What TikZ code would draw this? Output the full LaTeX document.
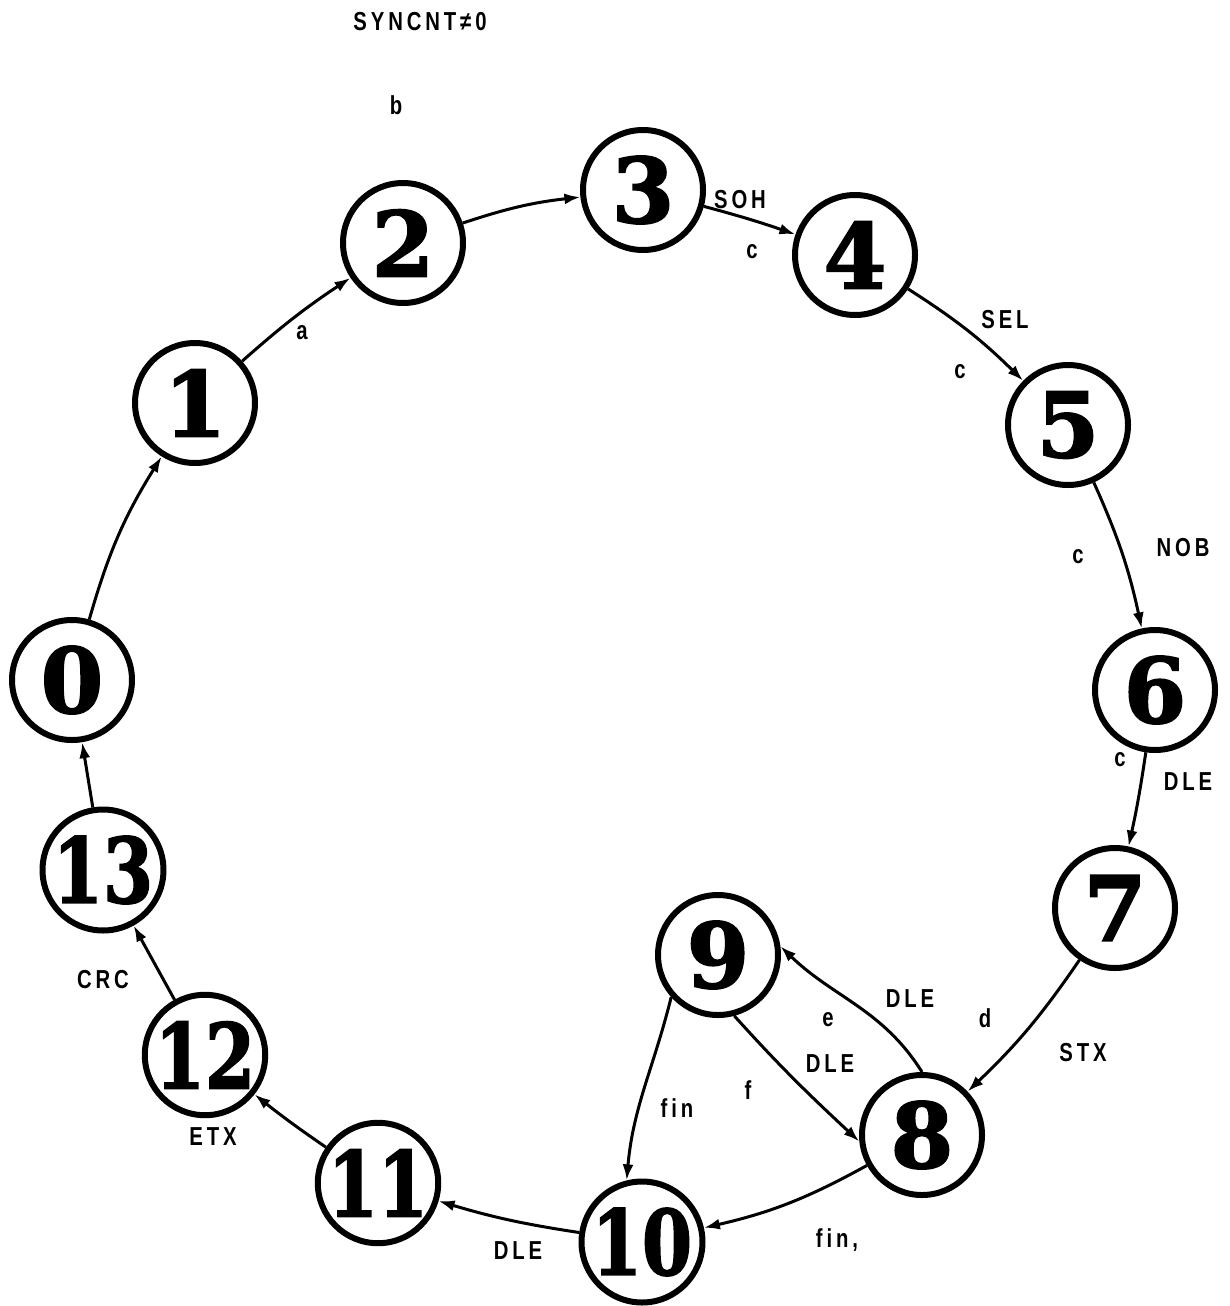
\documentclass[tikz,border=0pt]{standalone}
\usepackage{fontspec}
\usetikzlibrary{arrows.meta}
\newfontfamily\digfont[FakeBold=2]{DejaVu Serif}
\newfontfamily\labfont[FakeStretch=0.78,LetterSpace=15]{Liberation Sans}
\tikzset{
  st/.style={circle,draw,line width=6pt,minimum size=120pt,inner sep=0pt,
    font=\digfont\bfseries\fontsize{90}{90}\selectfont},
  tr/.style={line width=3pt,-{Latex[length=16pt,width=11pt]}},
  lab/.style={font=\labfont\bfseries\fontsize{26}{26}\selectfont,inner sep=0pt}
}
\newcommand{\tw}[1]{\scalebox{0.8}[1]{#1}}
\begin{document}
\begin{tikzpicture}[x=1pt,y=1pt]
\useasboundingbox (0,0) rectangle (1230,-1306);
\node[st] (n0) at (72,-680) {0};
\node[st] (n1) at (195,-403) {1};
\node[st] (n2) at (403,-243) {2};
\node[st] (n3) at (643,-190) {3};
\node[st] (n4) at (855,-255) {4};
\node[st] (n5) at (1068,-425) {5};
\node[st] (n6) at (1155,-690) {6};
\node[st] (n7) at (1115,-908) {7};
\node[st] (n8) at (922,-1135) {8};
\node[st] (n9) at (718,-955) {9};
\node[st] (n10) at (642,-1242) {\tw{10}};
\node[st] (n11) at (378,-1183) {\tw{11}};
\node[st] (n12) at (205,-1055) {\tw{12}};
\node[st] (n13) at (103,-870) {\tw{13}};
% ring edges
\draw[tr] (n0) to[bend left=8] (n1);
\draw[tr] (n1) to[bend left=4] (n2);
\draw[tr] (n2) to[bend left=6] (n3);
\draw[tr] (n3) to[bend left=2] (n4);
\draw[tr] (n4) to[bend left=6] (n5);
\draw[tr] (n5) to[bend left=6] (n6);
\draw[tr] (n6) to[bend left=2] (n7);
\draw[tr] (n7) to[bend left=6] (n8);
\draw[tr] (n8) to[bend left=8] (n10);
\draw[tr] (n10) to[bend left=4] (n11);
\draw[tr] (n11) to[bend left=2] (n12);
\draw[tr] (n12) to (n13);
\draw[tr] (n13) to (n0);
% inner edges
\draw[tr] (n9.-138) to[out=-104,in=85] (n10.104);
\draw[tr] (n9.-75) to[out=-48,in=137] (n8.186);
\draw[tr] (n8.90) to[out=122,in=-44] (n9.8);
% labels
\node[lab] (lsync) at (420,-22) {SYNCNT≠0};
\node[lab] (lb) at (396,-105) {b};
\node[lab] (la) at (302,-333) {a};
\node[lab] (lsoh) at (740,-200) {SOH};
\node[lab] (lc1) at (752,-252) {c};
\node[lab] (lsel) at (1005,-320) {SEL};
\node[lab] (lc2) at (960,-372) {c};
\node[lab] (lnob) at (1183,-548) {NOB};
\node[lab] (lc3) at (1078,-557) {c};
\node[lab] (lc4) at (1120,-760) {c};
\node[lab] (ldle1) at (1188,-782) {DLE};
\node[lab] (ld) at (985,-1018) {d};
\node[lab] (lstx) at (1083,-1053) {STX};
\node[lab] (ldle2) at (910,-999) {DLE};
\node[lab] (le) at (828,-1020) {e};
\node[lab] (ldle3) at (830,-1064) {DLE};
\node[lab] (lf) at (748,-1090) {f};
\node[lab] (lfin1) at (677,-1108) {fin};
\node[lab] (lfin2) at (837,-1240) {fin,};
\node[lab] (ldle4) at (518,-1251) {DLE};
\node[lab] (letx) at (213,-1137) {ETX};
\node[lab] (lcrc) at (103,-980) {CRC};
\end{tikzpicture}
\end{document}
